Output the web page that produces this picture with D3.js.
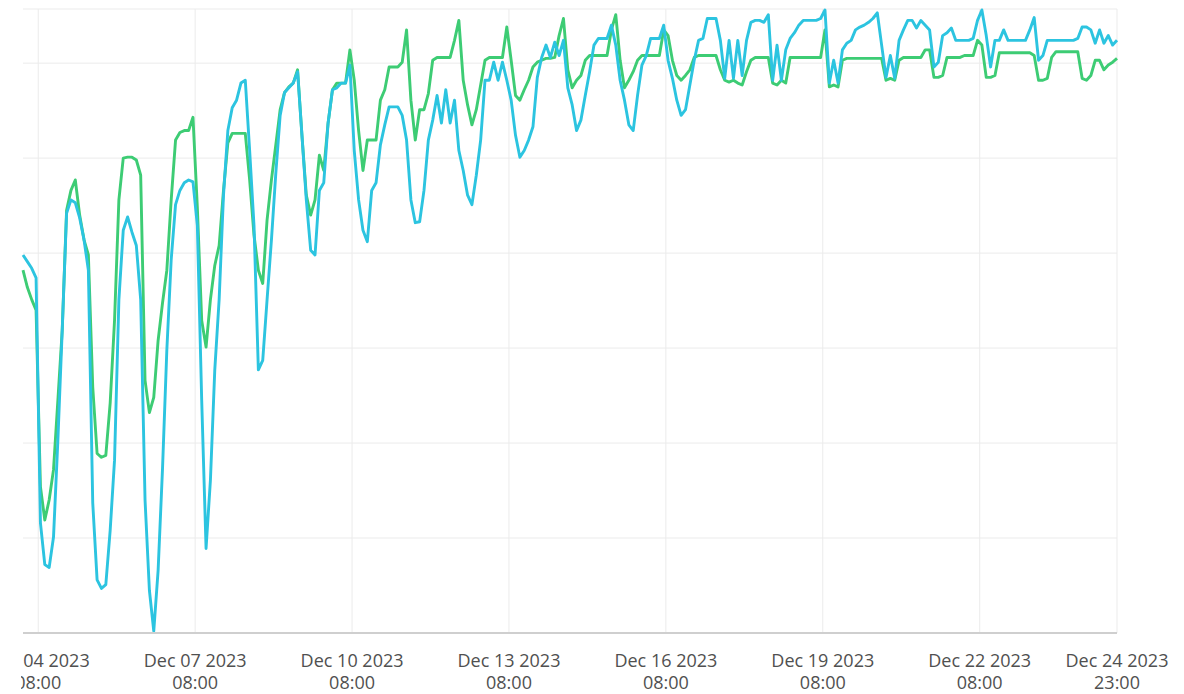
<!DOCTYPE html>
<html>
<head>
<meta charset="utf-8">
<script src="https://cdn.jsdelivr.net/npm/d3@7"></script>
<style>
  body { margin: 0; background: #fff; }
  .grid line { stroke: #ebebeb; stroke-width: 1; }
  .line { fill: none; stroke-width: 2.9; stroke-linejoin: round; }
  .tick-label { font-family: "Open Sans", sans-serif; font-size: 18px; fill: #505050; }
</style>
</head>
<body>
<svg width="1184" height="694"></svg>
<script>
// first reading is Dec 04 01:00, one reading every 2 hours until Dec 24 23:00
var startTime = new Date(2023, 11, 4, 1, 0);
var stepHours = 2;

// green series
var seriesGreen = [
  38.2, 36.4, 35.1, 34.0, 15.4, 11.9, 14.0, 17.2, 24.5, 31.9, 44.5, 46.6,
  47.7, 44.0, 41.4, 39.8, 25.9, 18.9, 18.5, 18.7, 24.2, 32.9, 45.6, 50.0,
  50.1, 50.1, 49.8, 48.2, 26.6, 23.2, 24.8, 30.8, 34.7, 38.2, 45.6, 51.9,
  52.7, 52.9, 52.9, 54.3, 44.8, 32.9, 30.1, 35.1, 38.7, 40.8, 46.6, 51.6,
  52.6, 52.6, 52.6, 52.6, 47.7, 41.9, 38.2, 36.8, 43.5, 47.7, 51.4, 55.1,
  56.9, 57.5, 57.9, 59.3, 52.4, 46.1, 44.0, 45.6, 50.3, 48.7, 53.7, 57.2,
  57.9, 57.9, 57.9, 61.4, 58.2, 52.9, 48.7, 51.9, 51.9, 51.9, 56.1, 57.2,
  59.6, 59.6, 59.6, 60.1, 63.5, 56.1, 51.9, 55.1, 55.1, 56.8, 60.3, 60.6,
  60.6, 60.6, 60.6, 62.4, 64.5, 58.2, 55.6, 53.5, 55.1, 57.7, 60.3, 60.6,
  60.6, 60.6, 60.6, 63.8, 60.3, 56.6, 56.1, 57.2, 58.2, 59.6, 60.1, 60.3,
  60.5, 60.5, 60.6, 62.9, 64.7, 59.3, 57.4, 58.2, 58.7, 60.3, 60.8, 60.8,
  60.8, 60.8, 60.8, 63.5, 65.1, 60.3, 57.4, 58.2, 59.1, 60.3, 60.8, 60.8,
  60.8, 60.8, 60.8, 63.5, 62.9, 60.3, 58.7, 58.2, 58.7, 59.3, 60.6, 60.8,
  60.8, 60.8, 60.8, 60.8, 59.3, 58.2, 58.0, 58.2, 57.9, 57.7, 59.1, 60.3,
  60.6, 60.6, 60.6, 60.6, 57.9, 57.7, 58.2, 57.9, 60.6, 60.6, 60.6, 60.6,
  60.6, 60.6, 60.6, 60.6, 63.5, 57.5, 57.7, 57.5, 60.3, 60.5, 60.5, 60.5,
  60.5, 60.5, 60.5, 60.5, 60.5, 60.5, 58.2, 58.4, 58.2, 60.3, 60.6, 60.6,
  60.6, 60.6, 60.6, 61.4, 61.4, 58.5, 58.5, 58.7, 60.6, 60.6, 60.6, 60.6,
  60.8, 60.8, 60.8, 62.4, 61.9, 58.5, 58.5, 58.7, 61.1, 61.1, 61.1, 61.1,
  61.1, 61.1, 61.1, 61.1, 60.8, 58.2, 58.2, 58.4, 60.6, 61.2, 61.2, 61.2,
  61.2, 61.2, 61.2, 58.4, 58.2, 58.7, 60.3, 60.3, 59.3, 59.8, 60.1, 60.5
];

// cyan series
var seriesCyan = [
  39.8, 39.1, 38.4, 37.4, 11.6, 7.2, 6.9, 10.1, 20.3, 31.9, 44.2, 45.6,
  45.3, 43.7, 41.4, 38.2, 13.7, 5.6, 4.7, 5.1, 10.8, 18.2, 35.1, 42.4,
  43.8, 42.2, 40.8, 35.1, 14.0, 4.5, 0.2, 6.6, 17.2, 29.8, 39.3, 45.1,
  46.6, 47.4, 47.7, 47.5, 42.9, 24.5, 8.9, 16.1, 27.7, 35.1, 46.1, 52.9,
  55.3, 56.1, 57.9, 58.2, 50.8, 42.9, 27.7, 28.7, 35.1, 41.4, 48.4, 54.5,
  56.9, 57.4, 57.9, 59.1, 52.4, 45.6, 40.3, 39.8, 46.6, 47.4, 53.7, 57.2,
  57.4, 57.9, 57.9, 59.8, 50.8, 45.6, 42.4, 41.2, 46.6, 47.4, 51.4, 53.5,
  55.4, 55.4, 55.4, 54.5, 51.9, 45.6, 43.2, 43.3, 46.6, 51.9, 54.0, 56.6,
  53.7, 57.2, 53.7, 56.1, 50.8, 48.7, 46.1, 45.1, 48.2, 51.9, 58.2, 58.2,
  60.1, 58.2, 60.1, 58.2, 56.1, 52.4, 50.1, 50.8, 51.9, 53.3, 58.5, 60.6,
  61.9, 60.6, 62.2, 60.8, 62.4, 57.4, 55.6, 52.9, 54.0, 56.6, 59.1, 61.9,
  62.6, 62.6, 62.6, 64.0, 61.9, 58.2, 56.1, 53.5, 52.9, 56.6, 59.8, 60.8,
  62.6, 62.6, 62.6, 64.0, 60.3, 58.4, 56.1, 54.5, 55.1, 57.7, 60.3, 62.4,
  62.6, 64.7, 64.7, 64.7, 62.4, 58.4, 62.4, 58.4, 62.4, 58.7, 62.4, 64.3,
  64.5, 64.5, 64.3, 65.1, 58.2, 61.9, 58.2, 61.4, 62.6, 63.2, 64.0, 64.5,
  64.5, 64.5, 64.5, 64.7, 65.6, 57.9, 60.3, 57.9, 61.4, 62.1, 62.4, 63.5,
  63.8, 64.0, 64.3, 64.7, 65.3, 61.9, 58.5, 60.8, 58.4, 62.4, 63.5, 64.5,
  64.5, 63.7, 64.5, 64.0, 63.5, 59.6, 60.1, 62.9, 63.2, 63.7, 62.4, 62.4,
  62.4, 62.4, 62.6, 64.5, 65.6, 62.9, 59.6, 62.4, 62.4, 63.5, 62.4, 62.4,
  62.4, 62.4, 62.4, 63.5, 64.8, 60.3, 60.8, 62.4, 62.4, 62.4, 62.4, 62.4,
  62.4, 62.4, 62.6, 63.8, 63.8, 63.5, 62.1, 63.5, 62.1, 62.9, 61.9, 62.4
];

// x tick positions (label text comes from them)
var tickTimes = [
  "2023-12-04 08:00", "2023-12-07 08:00", "2023-12-10 08:00", "2023-12-13 08:00",
  "2023-12-16 08:00", "2023-12-19 08:00", "2023-12-22 08:00", "2023-12-24 23:00"
];
var yTicks = [10, 20, 30, 40, 50, 60];
var yMax = 65.7;

var svg = d3.select("svg"),
    margin = {top: 9, right: 67, bottom: 61, left: 23},
    width = svg.attr("width") - margin.left - margin.right,
    height = svg.attr("height") - margin.top - margin.bottom;

var parseTick = d3.timeParse("%Y-%m-%d %H:%M");
var ticks = tickTimes.map(parseTick);

var times = seriesGreen.map(function(d, i) { return d3.timeHour.offset(startTime, i * stepHours); });
var endTime = times[times.length - 1];

var x = d3.scaleTime()
    .domain([startTime, endTime])
    .range([0, width]);

var y = d3.scaleLinear()
    .domain([0, yMax])
    .range([height, 0]);

var g = svg.append("g")
    .attr("transform", "translate(" + margin.left + "," + margin.top + ")");

// grid
var grid = g.append("g").attr("class", "grid");
grid.selectAll("line.h").data(yTicks.concat([yMax])).enter().append("line")
    .attr("class", "h")
    .attr("x1", 0).attr("x2", width)
    .attr("y1", d => y(d)).attr("y2", d => y(d));
grid.selectAll("line.v").data(ticks).enter().append("line")
    .attr("class", "v")
    .attr("x1", d => x(d)).attr("x2", d => x(d))
    .attr("y1", 0).attr("y2", height);

// lines, cyan drawn over green
var linef = d3.line()
    .x((d, i) => x(times[i]))
    .y(d => y(d));

g.append("path").datum(seriesGreen)
    .attr("class", "line")
    .attr("stroke", "#3dcc74")
    .attr("d", linef);

g.append("path").datum(seriesCyan)
    .attr("class", "line")
    .attr("stroke", "#2cc4e0")
    .attr("d", linef);

// bottom axis line
g.append("line")
    .attr("x1", 0).attr("x2", width)
    .attr("y1", height).attr("y2", height)
    .attr("stroke", "#cfcfcf")
    .attr("stroke-width", 2);

// labels are cut at the left edge of the plot
svg.append("clipPath").attr("id", "labelclip")
  .append("rect")
    .attr("x", margin.left - 2).attr("y", 0)
    .attr("width", +svg.attr("width") - margin.left).attr("height", svg.attr("height"));

var fmtDay = d3.timeFormat("%b %d %Y"),
    fmtHour = d3.timeFormat("%H:%M");

// clip on an untransformed wrapper so the rect is in page pixels
var labels = svg.append("g")
    .attr("clip-path", "url(#labelclip)")
  .append("g")
    .attr("transform", "translate(" + margin.left + "," + (margin.top + height) + ")");

var lab = labels.selectAll("text").data(ticks).enter().append("text")
    .attr("class", "tick-label")
    .attr("text-anchor", "middle")
    .attr("transform", d => "translate(" + x(d) + ",0)");
lab.append("tspan").attr("x", 0).attr("y", 34).text(d => fmtDay(d));
lab.append("tspan").attr("x", 0).attr("y", 56).text(d => fmtHour(d));
</script>
</body>
</html>
